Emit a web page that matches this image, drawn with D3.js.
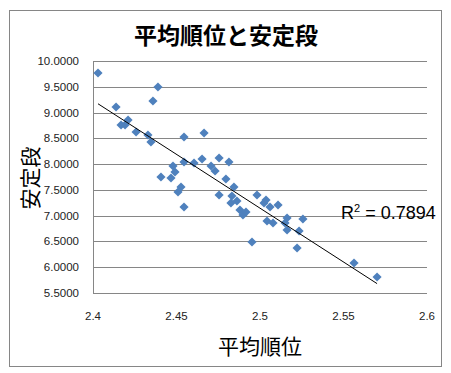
<!DOCTYPE html>
<html>
<head>
<meta charset="utf-8">
<script src="https://cdn.jsdelivr.net/npm/d3@7"></script>
<style>
  body { margin: 0; background: #fff; }
  svg text { font-family: "Liberation Sans", Arial, sans-serif; }
  .jp { font-family: "Noto Sans CJK JP", sans-serif; }
</style>
</head>
<body>
<div id="chart"></div>
<script>
// 平均順位 (x) / 安定段 (y)
const avgRank = [
  2.403, 2.4138, 2.4168, 2.4192, 2.421, 2.4258, 2.4329, 2.4347, 2.4359, 2.4389,
  2.4407, 2.4467, 2.4479, 2.4491, 2.4545, 2.4665, 2.4545, 2.4605, 2.4653, 2.4707,
  2.4731, 2.4755, 2.4814, 2.4796, 2.4844, 2.4527, 2.4509, 2.4545, 2.4755, 2.4832,
  2.4826, 2.4862, 2.488, 2.4898, 2.4916, 2.4982, 2.5036, 2.5024, 2.506, 2.5108,
  2.5042, 2.5078, 2.5162, 2.515, 2.5162, 2.5257, 2.5234, 2.4952, 2.5222, 2.5563,
  2.5701
];
const stableDan = [
  9.767, 9.108, 8.759, 8.759, 8.856, 8.623, 8.565, 8.429, 9.224, 9.496,
  7.75, 7.731, 7.963, 7.847, 8.526, 8.603, 8.041, 8.021, 8.099, 7.963,
  7.866, 8.118, 8.041, 7.711, 7.556, 7.556, 7.459, 7.168, 7.401, 7.381,
  7.246, 7.284, 7.11, 7.013, 7.071, 7.401, 7.304, 7.246, 7.168, 7.207,
  6.896, 6.858, 6.955, 6.858, 6.722, 6.935, 6.703, 6.489, 6.373, 6.082,
  5.81
];
const xTicks = [2.4, 2.45, 2.5, 2.55, 2.6];
const yTicks = [5.5, 6, 6.5, 7, 7.5, 8, 8.5, 9, 9.5, 10];
const r2Label = "0.7894";

const width = 451, height = 373;
const plot = { left: 93, right: 427, top: 61, bottom: 293 };

const svg = d3.select('#chart').append('svg')
  .attr('width', width).attr('height', height);

// outer chart border
svg.append('rect')
  .attr('x', 9.5).attr('y', 10.5)
  .attr('width', 432).attr('height', 356)
  .attr('fill', '#fff').attr('stroke', '#868686');

const x = d3.scaleLinear().domain([2.4, 2.6]).range([plot.left, plot.right]);
const y = d3.scaleLinear().domain([5.5, 10]).range([plot.bottom, plot.top]);

// gridlines
svg.append('g')
  .selectAll('line')
  .data(yTicks)
  .enter()
  .append('line')
  .attr('x1', plot.left).attr('x2', plot.right)
  .attr('y1', (d) => Math.round(y(d)) + 0.5)
  .attr('y2', (d) => Math.round(y(d)) + 0.5)
  .attr('stroke', '#868686');

// y axis line
svg.append('line')
  .attr('x1', plot.left + 0.5).attr('x2', plot.left + 0.5)
  .attr('y1', plot.top).attr('y2', plot.bottom + 1)
  .attr('stroke', '#868686');

// tick labels
svg.append('g')
  .selectAll('text')
  .data(yTicks)
  .enter()
  .append('text')
  .attr('x', 79)
  .attr('y', (d) => y(d) + 4)
  .attr('text-anchor', 'end')
  .attr('font-size', 11.5)
  .attr('fill', '#222')
  .text((d) => d.toFixed(4));

svg.append('g')
  .selectAll('text')
  .data(xTicks)
  .enter()
  .append('text')
  .attr('x', (d) => x(d))
  .attr('y', 320)
  .attr('text-anchor', 'middle')
  .attr('font-size', 11.5)
  .attr('fill', '#222')
  .text((d) => String(d));

// points
const pts = avgRank.map((d, i) => ({ x: d, y: stableDan[i] }));
svg.append('g')
  .selectAll('path')
  .data(pts)
  .enter()
  .append('path')
  .attr('d', d3.symbol().type(d3.symbolSquare).size(42))
  .attr('transform', (d) => `translate(${x(d.x)},${y(d.y)}) rotate(45)`)
  .attr('fill', '#4F81BD');

// linear trendline
const mx = d3.mean(avgRank), my = d3.mean(stableDan);
const slope = d3.sum(pts, (d) => (d.x - mx) * (d.y - my)) /
  d3.sum(pts, (d) => (d.x - mx) ** 2);
const icpt = my - slope * mx;
const [x0, x1] = d3.extent(avgRank);
svg.append('line')
  .attr('x1', x(x0)).attr('y1', y(icpt + slope * x0))
  .attr('x2', x(x1)).attr('y2', y(icpt + slope * x1))
  .attr('stroke', '#000').attr('stroke-width', 1);

// R² label
const r2 = svg.append('text')
  .attr('x', 341).attr('y', 219)
  .attr('font-size', 18)
  .attr('fill', '#000');
r2.append('tspan').text('R');
r2.append('tspan').text('2').attr('font-size', 11).attr('dy', -7);
r2.append('tspan').text(' = ' + r2Label).attr('dy', 7);

// titles
svg.append('text')
  .attr('class', 'jp')
  .attr('x', 226).attr('y', 44)
  .attr('text-anchor', 'middle')
  .attr('font-size', 23).attr('font-weight', 'bold')
  .text('平均順位と安定段');

svg.append('text')
  .attr('class', 'jp')
  .attr('x', 260).attr('y', 354)
  .attr('text-anchor', 'middle')
  .attr('font-size', 21)
  .text('平均順位');

svg.append('text')
  .attr('class', 'jp')
  .attr('transform', 'translate(38,178) rotate(-90)')
  .attr('text-anchor', 'middle')
  .attr('font-size', 21)
  .text('安定段');
</script>
</body>
</html>
